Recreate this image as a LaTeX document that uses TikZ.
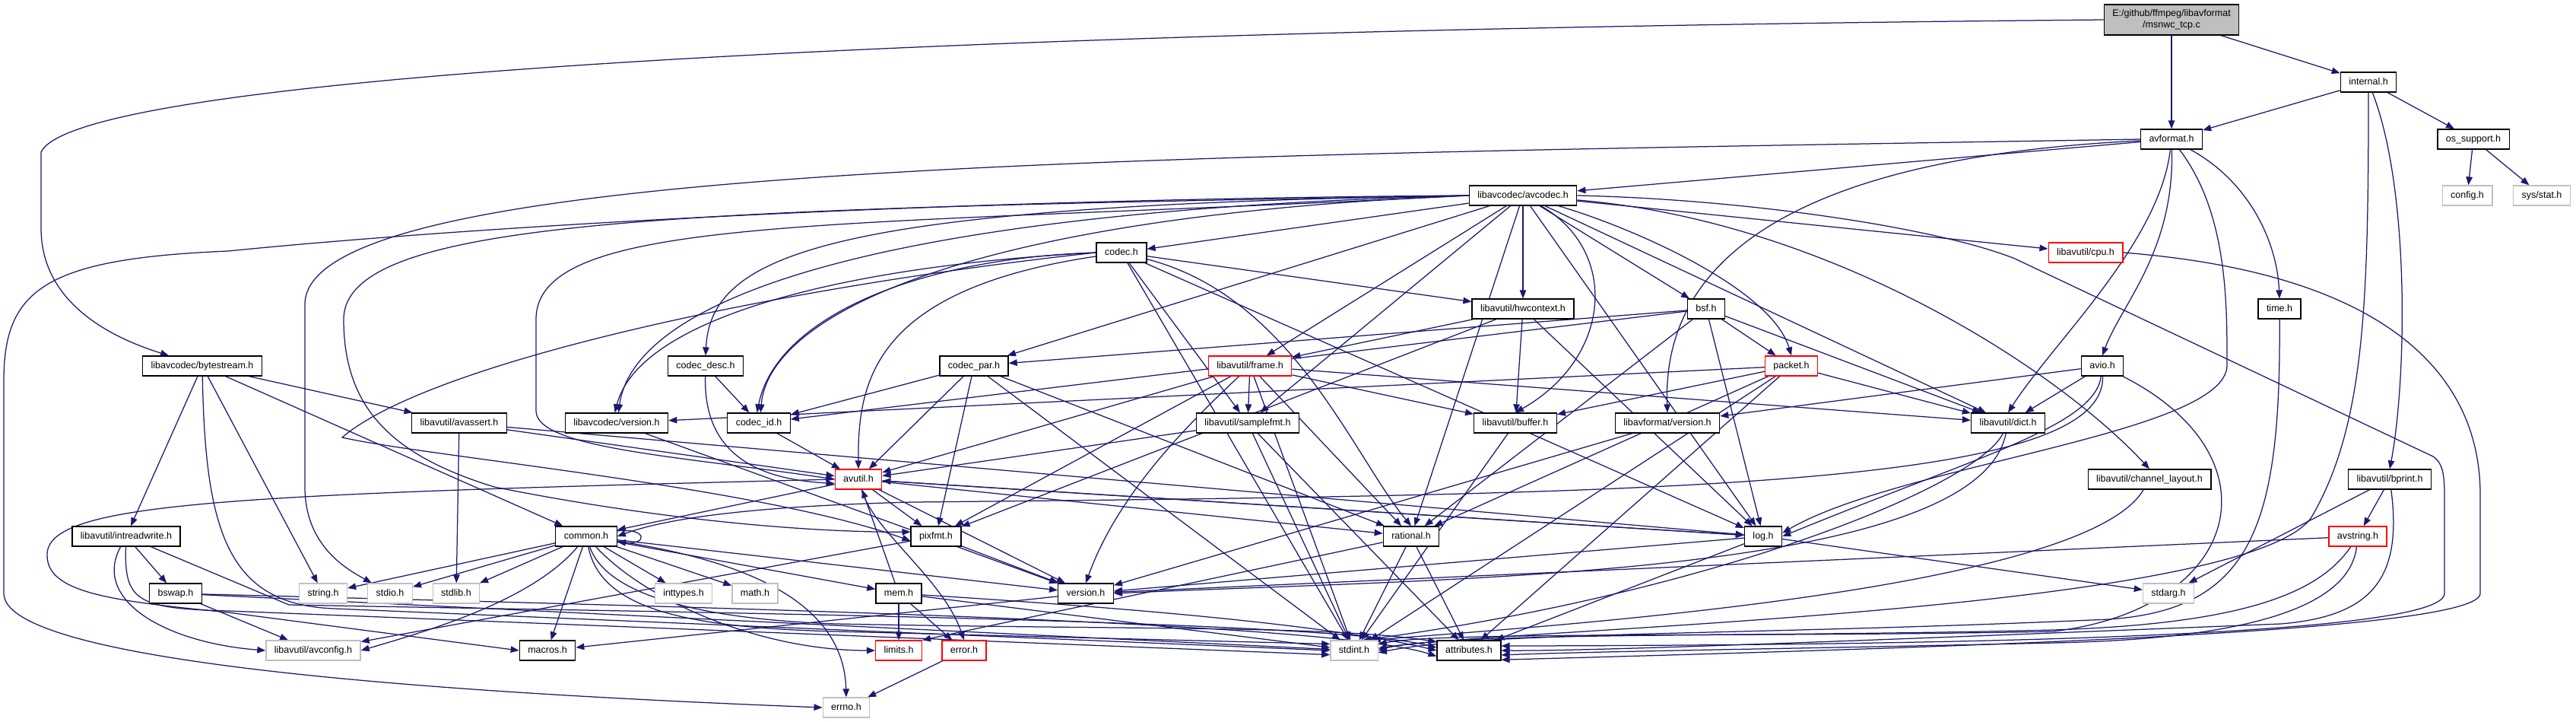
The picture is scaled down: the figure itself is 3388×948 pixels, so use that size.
\documentclass[tikz,border=0pt]{standalone}
\usepackage{fontspec}
\setmainfont{Liberation Sans}
\usepackage{xcolor}
\definecolor{edgeblue}{HTML}{191970}
\definecolor{sysgray}{HTML}{BFBFBF}
\definecolor{cutred}{HTML}{FF0000}
\definecolor{srcgray}{HTML}{BFBFBF}
\usetikzlibrary{arrows.meta,backgrounds}

\tikzset{
  hdr/.style={draw=black, fill=white, line width=1.3pt, minimum height=26pt,
    inner xsep=11pt, inner ysep=0pt, text height=9pt, text depth=2.5pt,
    font=\fontsize{12.5}{14}\selectfont},
  syshdr/.style={hdr, draw=sysgray},
  cuthdr/.style={hdr, draw=cutred},
  srcfile/.style={draw=black, fill=srcgray, line width=1.3pt, minimum height=40pt,
    inner xsep=11pt, inner ysep=2pt, align=center, font=\fontsize{12.5}{15}\selectfont},
  dep/.style={draw=edgeblue, line width=1.25pt, -{Triangle[length=11pt,width=8.5pt]}}
}

\begin{document}
\begin{tikzpicture}[x=1pt,y=-1pt]
  \useasboundingbox (0,0) rectangle (3388,948);

  % headers, row by row
  \node[srcfile] (main) at (2856,26) {E:/github/ffmpeg/libavformat\\/msnwc\_tcp.c};
  \node[hdr] (internal) at (3115,108) {internal.h};
  \node[hdr] (avformat) at (2856,183) {avformat.h};
  \node[hdr] (ossupport) at (3253,183) {os\_support.h};
  \node[hdr] (avcodec) at (2003,257) {libavcodec/avcodec.h};
  \node[syshdr] (config) at (3245,257) {config.h};
  \node[syshdr] (sysstat) at (3343,257) {sys/stat.h};
  \node[hdr] (codec) at (1475,332) {codec.h};
  \node[cuthdr] (cpu) at (2743,332) {libavutil/cpu.h};
  \node[hdr] (hwcontext) at (2003,406) {libavutil/hwcontext.h};
  \node[hdr] (bsf) at (2244,406) {bsf.h};
  \node[hdr] (time) at (2998,406) {time.h};
  \node[hdr] (bytestream) at (266,481) {libavcodec/bytestream.h};
  \node[hdr] (codecdesc) at (928,481) {codec\_desc.h};
  \node[hdr] (codecpar) at (1281,481) {codec\_par.h};
  \node[cuthdr] (frame) at (1644,481) {libavutil/frame.h};
  \node[cuthdr] (packet) at (2356,481) {packet.h};
  \node[hdr] (avio) at (2765,481) {avio.h};
  \node[hdr] (avassert) at (604,556) {libavutil/avassert.h};
  \node[hdr] (lcversion) at (811,556) {libavcodec/version.h};
  \node[hdr] (codecid) at (998,556) {codec\_id.h};
  \node[hdr] (samplefmt) at (1641,556) {libavutil/samplefmt.h};
  \node[hdr] (buffer) at (1993,556) {libavutil/buffer.h};
  \node[hdr] (lfversion) at (2193,556) {libavformat/version.h};
  \node[hdr] (dict) at (2641,556) {libavutil/dict.h};
  \node[cuthdr] (avutil) at (1129,630) {avutil.h};
  \node[hdr] (chlayout) at (2827,630) {libavutil/channel\_layout.h};
  \node[hdr] (bprint) at (3143,630) {libavutil/bprint.h};
  \node[hdr] (intreadwrite) at (166,705) {libavutil/intreadwrite.h};
  \node[hdr] (common) at (771,705) {common.h};
  \node[hdr] (pixfmt) at (1231,705) {pixfmt.h};
  \node[hdr] (rational) at (1856,705) {rational.h};
  \node[hdr] (log) at (2319,705) {log.h};
  \node[cuthdr] (avstring) at (3101,705) {avstring.h};
  \node[hdr] (bswap) at (231,780) {bswap.h};
  \node[syshdr] (string) at (425,780) {string.h};
  \node[syshdr] (stdio) at (513,780) {stdio.h};
  \node[syshdr] (stdlib) at (600,780) {stdlib.h};
  \node[syshdr] (inttypes) at (899,780) {inttypes.h};
  \node[syshdr] (math) at (993,780) {math.h};
  \node[hdr] (mem) at (1182,780) {mem.h};
  \node[hdr] (version) at (1428,780) {version.h};
  \node[syshdr] (stdarg) at (2852,780) {stdarg.h};
  \node[syshdr] (avconfig) at (412,855) {libavutil/avconfig.h};
  \node[hdr] (macros) at (720,855) {macros.h};
  \node[cuthdr] (limits) at (1182,855) {limits.h};
  \node[cuthdr] (error) at (1268,855) {error.h};
  \node[syshdr] (stdint) at (1781,855) {stdint.h};
  \node[hdr] (attributes) at (1932,855) {attributes.h};
  \node[syshdr] (errno) at (1113,930) {errno.h};

  \begin{scope}[on background layer]
    \fill[white] (0,0) rectangle (3388,948);

    % msnwc_tcp.c and internal.h
    \foreach \dst in {avformat,internal} \draw[dep] (main) -- (\dst);
    \draw[dep] (main.west) .. controls (1200,40) and (100,100) .. (54,200) -- (54,300)
      .. controls (54,400) and (150,445) .. (bytestream);
    \foreach \dst in {avformat,ossupport} \draw[dep] (internal) -- (\dst);
    \draw[dep] (internal) .. controls (3170,250) and (3165,500) .. (bprint.north);
    \draw[dep] (internal) .. controls (3115,400) and (3110,560) .. (3040,680)
      .. controls (2950,810) and (1900,828) .. (stdint.east);
    \foreach \dst in {config,sysstat} \draw[dep] (ossupport) -- (\dst);

    % avformat.h
    \draw[dep] (avformat) -- (avcodec);
    \draw[dep] (avformat.west) .. controls (1500,205) and (401,215) .. (401,400) -- (401,640)
      .. controls (401,720) and (460,750) .. (stdio);
    \draw[dep] (avformat) .. controls (2400,205) and (2185,320) .. (lfversion.north);
    \draw[dep] (avformat) .. controls (2840,320) and (2700,450) .. (dict.north);
    \draw[dep] (avformat) .. controls (2860,330) and (2790,400) .. (avio.north);
    \draw[dep] (avformat) .. controls (2960,240) and (2995,320) .. (time.north);
    \draw[dep] (avformat) .. controls (2930,280) and (2929,400) .. (2929,480)
      .. controls (2929,570) and (2500,610) .. (log.10);

    % libavcodec/avcodec.h
    \foreach \dst in {codec,cpu,hwcontext,bsf,frame,samplefmt,codecpar,dict,log,rational}
      \draw[dep] (avcodec) -- (\dst);
    \draw[dep] (avcodec) .. controls (2150,300) and (2330,380) .. (packet.north);
    \draw[dep] (avcodec) .. controls (2130,330) and (2120,470) .. (buffer.north);
    \draw[dep] (avcodec) .. controls (2400,290) and (2700,480) .. (chlayout.north);
    \draw[dep] (avcodec.west) .. controls (1100,270) and (935,330) .. (codecdesc.north);
    \draw[dep] (avcodec.west) .. controls (1250,285) and (1010,420) .. (codecid.80);
    \draw[dep] (avcodec.west) .. controls (1050,280) and (830,420) .. (lcversion.80);
    \draw[dep] (avcodec.west) .. controls (1100,300) and (705,280) .. (705,420) -- (705,540)
      .. controls (705,590) and (900,600) .. (avutil.west);
    \draw[dep] (avcodec.west) .. controls (900,275) and (452,285) .. (452,420)
      .. controls (452,540) and (520,600) .. (650,640)
      .. controls (900,690) and (1100,700) .. (pixfmt.170);
    \draw[dep] (avcodec.west) .. controls (1200,262) and (600,300) .. (300,330)
      .. controls (60,340) and (5,380) .. (5,500) -- (5,780)
      .. controls (5,880) and (700,915) .. (errno.west);
    \draw[dep] (avcodec.east) .. controls (2300,262) and (2550,300) .. (2650,340) -- (3200,600)
      .. controls (3215,610) and (3215,630) .. (3215,660) -- (3215,780)
      .. controls (3215,835) and (2600,848) .. (attributes.8);

    % codec.h and friends
    \foreach \dst in {hwcontext,samplefmt,log,stdint} \draw[dep] (codec) -- (\dst);
    \draw[dep] (codec) .. controls (1700,390) and (1780,600) .. (rational.north);
    \draw[dep] (codec) .. controls (1150,380) and (1128,500) .. (avutil.north);
    \draw[dep] (codec.west) .. controls (1200,340) and (1020,420) .. (codecid.100);
    \draw[dep] (codec.west) .. controls (1100,350) and (840,420) .. (lcversion.100);
    \draw[dep] (codec.west) .. controls (1000,380) and (560,480) .. (450,575)
      .. controls (560,600) and (1000,640) .. (pixfmt.-170);
    \draw[dep] (codecdesc) -- (codecid);
    \draw[dep] (codecdesc) .. controls (925,600) and (1000,630) .. (avutil.-170);
    \foreach \dst in {codecid,avutil,pixfmt,stdint,rational} \draw[dep] (codecpar) -- (\dst);
    \draw[dep] (codecid) -- (avutil);

    % frame.h, samplefmt.h, hwcontext.h
    \foreach \dst in {samplefmt,avutil,pixfmt,rational,stdint,buffer,dict} \draw[dep] (frame) -- (\dst);
    \draw[dep] (frame) .. controls (1560,560) and (1470,650) .. (version.north);
    \foreach \dst in {avutil,stdint,attributes} \draw[dep] (samplefmt) -- (\dst);
    \foreach \dst in {buffer,frame,log,pixfmt} \draw[dep] (hwcontext) -- (\dst);

    % bsf.h, packet.h
    \foreach \dst in {codecpar,codecid,packet,dict,log,rational} \draw[dep] (bsf) -- (\dst);
    \foreach \dst in {lcversion,buffer,dict,rational,attributes,stdint} \draw[dep] (packet) -- (\dst);

    % buffer.h, version headers, dict.h
    \draw[dep] (buffer) -- (stdint);
    \draw[dep] (lfversion) -- (version);
    \draw[dep] (lcversion) -- (version);
    \draw[dep] (dict) .. controls (2600,640) and (2250,780) .. (stdint.50);
    \draw[dep] (dict) .. controls (2600,760) and (1900,760) .. (version.east);

    % avio.h
    \draw[dep] (avio) -- (lfversion);
    \draw[dep] (avio) -- (dict);
    \draw[dep] (avio) .. controls (2755,560) and (2600,600) .. (log.east);
    \draw[dep] (avio) .. controls (2770,640) and (2200,650) .. (1200,660)
      .. controls (1000,665) and (880,680) .. (common.east);
    \draw[dep] (avio) .. controls (3000,600) and (2950,800) .. (2700,830)
      .. controls (2300,838) and (1900,830) .. (stdint.15);

    % common.h, mem.h, error.h
    \foreach \dst in {string,stdio,stdlib,inttypes,math,macros,version,mem} \draw[dep] (common) -- (\dst);
    \draw[dep] (common) .. controls (700,790) and (560,830) .. (avconfig.east);
    \draw[dep] (common) .. controls (1000,740) and (1110,800) .. (errno.north);
    \draw[dep] (common) .. controls (850,790) and (1000,855) .. (limits.west);
    \draw[dep] (common) .. controls (790,800) and (900,825) .. (1100,830) -- (stdint.165);
    \draw[dep] (common) .. controls (800,790) and (950,815) .. (1100,820)
      .. controls (1500,828) and (1750,822) .. (attributes.165);
    \draw[dep] (common.10) .. controls +(40,-4) and +(40,4) .. (common.-10);
    \foreach \dst in {avutil,limits,error,stdint} \draw[dep] (mem) -- (\dst);
    \draw[dep] (mem) .. controls (1500,800) and (1750,822) .. (attributes.west);
    \draw[dep] (error) -- (errno);

    % avutil.h
    \foreach \dst in {common,pixfmt,version,rational,log} \draw[dep] (avutil) -- (\dst);
    \draw[dep] (avutil) .. controls (1150,700) and (1240,760) .. (error.north);
    \draw[dep] (avutil.west) .. controls (300,650) and (60,660) .. (62,730)
      .. controls (62,780) and (150,790) .. (300,805) -- (macros.west);

    % pixfmt.h, version.h, rational.h, log.h
    \foreach \dst in {avconfig,version} \draw[dep] (pixfmt) -- (\dst);
    \draw[dep] (version) -- (macros);
    \draw[dep] (rational) -- (limits.north east);
    \foreach \dst in {stdint,attributes} \draw[dep] (rational) -- (\dst);
    \foreach \dst in {stdarg,avutil,attributes,version} \draw[dep] (log) -- (\dst);

    % bytestream.h side
    \foreach \dst in {intreadwrite,string,common,avassert} \draw[dep] (bytestream) -- (\dst);
    \draw[dep] (bytestream) .. controls (270,700) and (300,795) .. (440,800) -- (stdint.west);
    \foreach \dst in {stdlib,avutil,log} \draw[dep] (avassert) -- (\dst);
    \draw[dep] (intreadwrite) -- (bswap);
    \draw[dep] (intreadwrite) .. controls (120,790) and (220,845) .. (avconfig.west);
    \draw[dep] (intreadwrite) .. controls (163,790) and (180,800) .. (300,803) -- (stdint.-170);
    \draw[dep] (intreadwrite) -- (380,795) .. controls (900,805) and (1750,815) .. (attributes.175);
    \draw[dep] (bswap) -- (avconfig);
    \draw[dep] (bswap) -- (stdint);
    \draw[dep] (bswap) .. controls (1000,800) and (1750,818) .. (attributes.-170);

    % right column
    \draw[dep] (chlayout) .. controls (2740,780) and (2000,825) .. (stdint.30);
    \foreach \dst in {avstring,stdarg} \draw[dep] (bprint) -- (\dst);
    \draw[dep] (bprint) .. controls (3160,760) and (3120,810) .. (3000,820)
      .. controls (2500,840) and (2100,856) .. (attributes.east);
    \draw[dep] (avstring) -- (version);
    \draw[dep] (avstring) .. controls (3050,780) and (2950,820) .. (2700,828)
      .. controls (2300,838) and (1950,830) .. (stdint.5);
    \draw[dep] (avstring) .. controls (3090,800) and (2950,840) .. (2700,845)
      .. controls (2400,852) and (2100,856) .. (attributes.-8);
    \draw[dep] (cpu.east) .. controls (3150,360) and (3262,500) .. (3262,650) -- (3262,780)
      .. controls (3262,830) and (2600,850) .. (attributes.-16);
    \draw[dep] (time) .. controls (3000,700) and (2960,810) .. (2750,815)
      .. controls (2300,835) and (1950,830) .. (stdint.-5);
  \end{scope}
\end{tikzpicture}
\end{document}
